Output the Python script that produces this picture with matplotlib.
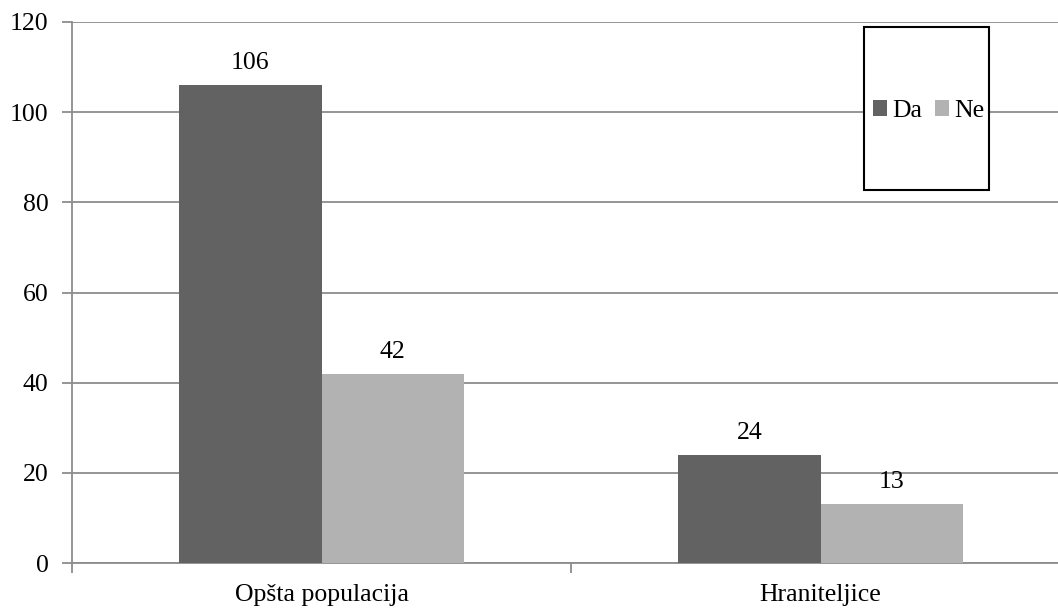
import numpy as np
import matplotlib
matplotlib.use("Agg")
from matplotlib import pyplot as plt
from matplotlib.patches import Rectangle

# data
categories = ["Opšta populacija", "Hraniteljice"]
series_names = ["Da", "Ne"]
da_values = [106, 24]
ne_values = [42, 13]
y_ticks = [0, 20, 40, 60, 80, 100, 120]

plt.rcParams['font.family'] = ['Liberation Serif', 'DejaVu Serif']
plt.rcParams['font.size'] = 18.5

W, H = 1058, 609
fig = plt.figure(figsize=(W / 100, H / 100), dpi=100)

# axes runs a bit past the right edge of the picture, as in the reference
left, right, top, bottom = 72, 1070, 22, 563
ax = fig.add_axes([left / W, (H - bottom) / H, (right - left) / W, (bottom - top) / H])

grid_col = '#8c8c8c'
x = np.arange(len(categories))
bw = 0.285

bars_da = ax.bar(x - bw / 2, da_values, bw, color='#626262', label=series_names[0], zorder=3)
bars_ne = ax.bar(x + bw / 2, ne_values, bw, color='#b2b2b2', label=series_names[1], zorder=3)

# value labels above bars
for bars in (bars_da, bars_ne):
    for b in bars:
        ax.annotate(f"{int(b.get_height())}", (b.get_x() + b.get_width() / 2, b.get_height()),
                    xytext=(0, 8), textcoords='offset points', ha='center', va='bottom')

ax.set_xlim(-0.5, len(categories) - 0.5)
ax.set_ylim(0, 120)
ax.set_yticks(y_ticks)
ax.yaxis.grid(True, color=grid_col, linewidth=1.3, zorder=0)

# category labels between the boundary ticks
ax.set_xticks(np.arange(len(categories) + 1) - 0.5)
ax.set_xticklabels([])
ax.set_xticks(x, minor=True)
ax.set_xticklabels(categories, minor=True)
ax.tick_params(axis='x', which='minor', length=0, pad=15)
ax.tick_params(axis='x', which='major', length=7, color=grid_col, width=1.3)
ax.tick_params(axis='y', length=7, color=grid_col, width=1.3, pad=10)

for s in ['top', 'right']:
    ax.spines[s].set_visible(False)
for s in ['left', 'bottom']:
    ax.spines[s].set_color(grid_col)
    ax.spines[s].set_linewidth(1.3)

# legend inside a tall box
box = Rectangle((864 / W, (H - 190) / H), (989 - 864) / W, (190 - 27) / H,
                transform=fig.transFigure, facecolor='white', edgecolor='black',
                linewidth=1.5, zorder=5)
fig.patches.append(box)
leg = fig.legend(loc='center', bbox_to_anchor=((868 + 989) / 2 / W, (H - 111) / H),
                 ncol=2, frameon=False, handlelength=0.55, handleheight=0.55,
                 handletextpad=0.2, columnspacing=0.5, borderaxespad=0)
leg.set_zorder(6)

fig.savefig("out.png", dpi=100)
